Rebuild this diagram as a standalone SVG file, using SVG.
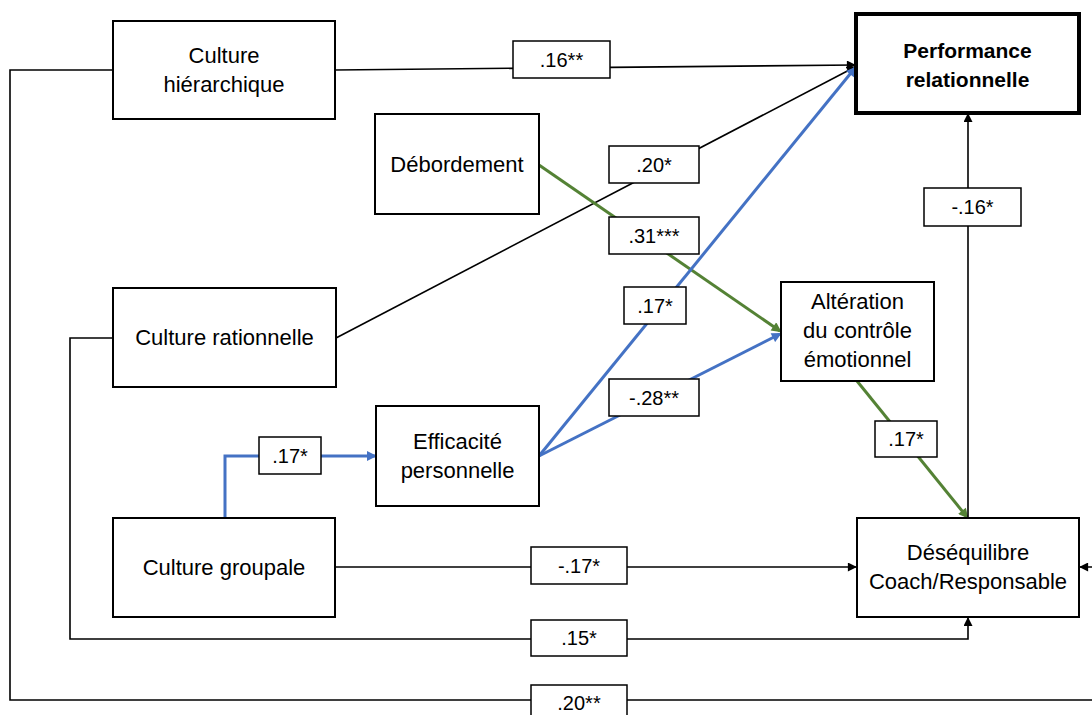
<svg xmlns="http://www.w3.org/2000/svg" width="1092" height="715" viewBox="0 0 1092 715">
  <style>
    .box { fill: #fff; stroke: #000; stroke-width: 2; }
    .box-strong { fill: #fff; stroke: #000; stroke-width: 4; }
    .lbl { fill: #fff; stroke: #000; stroke-width: 1.5; }
    .txt { font-family: "Liberation Sans", Arial, sans-serif; font-size: 22px; fill: #000; text-anchor: middle; }
    .txt-b { font-family: "Liberation Sans", Arial, sans-serif; font-size: 21px; font-weight: bold; fill: #000; text-anchor: middle; }
    .ltxt { font-family: "Liberation Sans", Arial, sans-serif; font-size: 20px; fill: #000; text-anchor: middle; }
    .k { fill: none; stroke: #000; stroke-width: 1.6; marker-end: url(#ah-k); }
    .b { fill: none; stroke: #4472C4; stroke-width: 3; marker-end: url(#ah-b); }
    .g { fill: none; stroke: #548235; stroke-width: 3; marker-end: url(#ah-g); }
  </style>
  <defs>
    <marker id="ah-k" viewBox="0 0 10 10" refX="9" refY="5" markerWidth="10" markerHeight="9" markerUnits="userSpaceOnUse" orient="auto">
      <path d="M0,0 L10,5 L0,10 z" fill="#000"/>
    </marker>
    <marker id="ah-b" viewBox="0 0 10 10" refX="8" refY="5" markerWidth="12" markerHeight="10" markerUnits="userSpaceOnUse" orient="auto">
      <path d="M0,0 L10,5 L0,10 z" fill="#4472C4"/>
    </marker>
    <marker id="ah-g" viewBox="0 0 10 10" refX="8" refY="5" markerWidth="12" markerHeight="10" markerUnits="userSpaceOnUse" orient="auto">
      <path d="M0,0 L10,5 L0,10 z" fill="#548235"/>
    </marker>
  </defs>

  <rect width="1092" height="715" fill="#fff"/>

  <!-- paths between constructs -->
  <g id="connectors">
    <path class="k" d="M335,70 L855,65"/>
    <path class="k" d="M336,338 L855,67"/>
    <path class="g" d="M539,165 L780,331"/>
    <path class="b" d="M539,456 L855,68"/>
    <path class="b" d="M539,456 L780,334"/>
    <path class="b" d="M225,518 V456 H375"/>
    <path class="k" d="M335,567 H856"/>
    <path class="k" d="M113,338 H70 V639 H968 V618"/>
    <path class="k" d="M113,70 H10 V700 H1110 V567 H1080"/>
    <path class="g" d="M857,381 L967,517"/>
    <path class="k" d="M968,518 V114"/>
  </g>

  <!-- path coefficients -->
  <g id="coefficients">
    <rect class="lbl" x="513" y="41" width="97" height="37"/>
    <text class="ltxt" x="561.5" y="66.5">.16**</text>
    <rect class="lbl" x="609" y="146" width="90" height="37"/>
    <text class="ltxt" x="654" y="171.5">.20*</text>
    <rect class="lbl" x="609" y="217" width="90" height="37"/>
    <text class="ltxt" x="654" y="242.5">.31***</text>
    <rect class="lbl" x="624" y="287" width="62" height="37"/>
    <text class="ltxt" x="655" y="312.5">.17*</text>
    <rect class="lbl" x="609" y="379" width="90" height="37"/>
    <text class="ltxt" x="654" y="404.5">-.28**</text>
    <rect class="lbl" x="924" y="188" width="97" height="38"/>
    <text class="ltxt" x="972.5" y="214">-.16*</text>
    <rect class="lbl" x="875" y="421" width="62" height="36"/>
    <text class="ltxt" x="906" y="446">.17*</text>
    <rect class="lbl" x="259" y="437" width="62" height="37"/>
    <text class="ltxt" x="290" y="462.5">.17*</text>
    <rect class="lbl" x="531" y="547" width="96" height="37"/>
    <text class="ltxt" x="579" y="572.5">-.17*</text>
    <rect class="lbl" x="531" y="620" width="96" height="36"/>
    <text class="ltxt" x="579" y="645">.15*</text>
    <rect class="lbl" x="531" y="685" width="96" height="36"/>
    <text class="ltxt" x="579" y="710">.20**</text>
  </g>

  <g id="culture-hierarchique">
    <rect class="box" x="113" y="21" width="222" height="98"/>
    <text class="txt" x="224" y="63">Culture</text>
    <text class="txt" x="224" y="92">hiérarchique</text>
  </g>

  <g id="performance-relationnelle">
    <rect class="box-strong" x="856" y="14" width="223" height="99"/>
    <text class="txt-b" x="967.5" y="58">Performance</text>
    <text class="txt-b" x="967.5" y="87">relationnelle</text>
  </g>

  <g id="debordement">
    <rect class="box" x="375" y="114" width="164" height="100"/>
    <text class="txt" x="457" y="172">Débordement</text>
  </g>

  <g id="culture-rationnelle">
    <rect class="box" x="113" y="288" width="223" height="99"/>
    <text class="txt" x="224.5" y="345">Culture rationnelle</text>
  </g>

  <g id="alteration-controle">
    <rect class="box" x="781" y="282" width="153" height="99"/>
    <text class="txt" x="857.5" y="309">Altération</text>
    <text class="txt" x="857.5" y="338">du contrôle</text>
    <text class="txt" x="857.5" y="367">émotionnel</text>
  </g>

  <g id="efficacite-personnelle">
    <rect class="box" x="376" y="406" width="163" height="100"/>
    <text class="txt" x="457.5" y="449">Efficacité</text>
    <text class="txt" x="457.5" y="478">personnelle</text>
  </g>

  <g id="culture-groupale">
    <rect class="box" x="113" y="518" width="222" height="99"/>
    <text class="txt" x="224" y="575">Culture groupale</text>
  </g>

  <g id="desequilibre">
    <rect class="box" x="857" y="518" width="222" height="99"/>
    <text class="txt" x="968" y="560">Déséquilibre</text>
    <text class="txt" x="968" y="589">Coach/Responsable</text>
  </g>
</svg>
